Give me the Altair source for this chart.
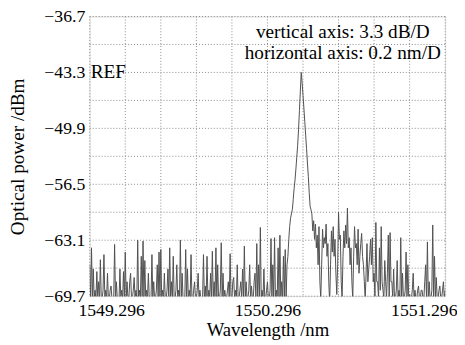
import altair as alt
import numpy as np
import pandas as pd

# Sampling grid of the spectrum (OSA trace, 0.005 nm step)
WL_START = 1549.296
WL_STEP = 0.005

# Optical power (dBm), one value per sample
power = [
    -66, -70, -64.0, -70, -66.5, -70, -69, -70, -66.8, -70, -68, -70, -65.4, -70, -70, -69, -64.8, -70, -69, -70,
    -67, -70, -70, -69, -68.5, -70, -70, -70, -63.6, -70, -68, -70, -70, -70, -66.5, -70, -69, -70, -66.8, -70,
    -64.5, -70, -68, -70, -70, -68, -67, -70, -70, -69, -67.5, -70, -69, -70, -63.1, -70, -69, -70, -65, -70,
    -63.2, -70, -65.5, -70, -69, -70, -67, -70, -70, -70, -64.8, -70, -68, -70, -70, -69, -66, -70, -64.5, -70,
    -64.2, -70, -69, -70, -67, -70, -70, -69, -66.5, -70, -64, -70, -68, -70, -65, -70, -70, -69, -66, -70,
    -69, -70, -63.1, -70, -67, -70, -70, -70, -64.2, -70, -66.5, -70, -69, -70, -64.8, -70, -70, -69, -68, -70,
    -70, -69, -67, -70, -69, -70, -70, -70, -64.8, -70, -68.5, -70, -65, -70, -69, -70, -67, -70, -64.4, -70,
    -68, -70, -64, -70, -66, -70, -70, -69, -63.4, -70, -67, -70, -69, -70, -70, -69, -68, -70, -64.7, -70,
    -70, -68, -67.5, -70, -69, -70, -66, -70, -70, -69, -68, -70, -66.5, -70, -63.8, -70, -68, -70, -70, -69,
    -66, -70, -68.5, -70, -70, -68, -67, -70, -63.5, -70, -66, -70, -61.6, -70, -69, -70, -66.5, -70, -70, -69,
    -68, -70, -70, -69, -62.9, -70, -66, -70, -62.8, -70, -69, -70, -64, -70, -62.5, -70, -68, -70, -65, -70,
    -64.2, -70, -66, -65, -63, -61.5, -60.5, -60, -59.5, -58.3, -57, -56, -54.7, -53.3, -51.9, -50, -47.8, -45.5, -43.3, -44.5,
    -46, -47.5, -49.1, -50.7, -52.3, -54, -55.6, -57.5, -59.1, -59.5, -60, -62, -60.8, -63, -61.2, -64, -62.5, -66, -61.5, -68,
    -70, -66, -61.8, -64, -62.8, -63.5, -61.2, -65, -63.5, -68, -70.5, -66, -62, -64.5, -61.5, -65, -63, -67, -69.5, -66,
    -59.8, -63, -62.5, -68, -70, -65, -62, -64, -61.3, -63.5, -59.3, -64, -62.8, -66, -64, -68, -70, -65, -61.5, -64,
    -63.5, -66, -61.8, -67, -65, -63.5, -62.3, -65, -66, -68, -70, -67, -63.5, -68, -66.5, -65, -63, -66, -62.8, -68,
    -67, -70, -61, -68, -68, -70, -64, -69, -61.5, -68, -69, -70, -65.5, -68, -70, -67, -62.5, -70, -62.2, -68,
    -68, -70, -66.5, -70, -70, -69, -65.5, -70, -69, -70, -62.8, -70, -67, -70, -70, -69, -64.5, -70, -66, -70,
    -69.5, -70, -70, -69, -67, -70, -69, -70, -70, -69, -68.5, -70, -70, -69, -69, -70, -70, -68, -66, -70,
    -63.3, -70, -68, -70, -70, -69, -61.3, -70, -65, -70, -67.5, -70, -70, -69, -68.5, -70, -70, -69, -68, -70,
    -69,
]

# Grid divisions (0.2 nm/D, 3.3 dB/D) and labelled ticks
x_grid = [1549.296, 1549.496, 1549.696, 1549.896, 1550.096, 1550.296,
          1550.496, 1550.696, 1550.896, 1551.096, 1551.296]
x_labels = [1549.296, 1550.296, 1551.296]
y_grid = [-69.7, -66.4, -63.1, -59.8, -56.5, -53.2, -49.9, -46.6, -43.3, -40.0, -36.7]
y_labels = [-69.7, -63.1, -56.5, -49.9, -43.3, -36.7]

note_text = ["vertical axis: 3.3 dB/D", "horizontal axis: 0.2 nm/D"]
note_wl = [1550.72, 1550.72]
note_p = [-38.56, -41.0]

ref_text = ["REF"]
ref_wl = [1549.296]
ref_p = [-43.3]

wl = np.round(WL_START + WL_STEP * np.arange(len(power)), 4)
df = pd.DataFrame({"wl": wl, "p": power})

FONT = "Liberation Serif"
GRID = "#8a8a8a"

xscale = alt.Scale(domain=[1549.296, 1551.296], nice=False, zero=False)
yscale = alt.Scale(domain=[-69.7, -36.7], nice=False, zero=False)

xaxis = alt.Axis(
    values=x_labels, format=".3f",
    labelFlush=True, labelFlushOffset=12, labelOverlap=False,
    grid=False, ticks=False, domain=False,
    labelFont=FONT, labelFontSize=18, labelColor="#000", labelPadding=6,
    title="Wavelength /nm", titleFont=FONT, titleFontSize=19,
    titleFontWeight="normal", titleColor="#000", titlePadding=1,
)
yaxis = alt.Axis(
    values=y_labels, format=".1f", labelOverlap=False,
    grid=False, ticks=False, domain=False,
    labelFont=FONT, labelFontSize=18, labelColor="#000", labelPadding=5,
    title="Optical power /dBm", titleFont=FONT, titleFontSize=19.5,
    titleFontWeight="normal", titleColor="#000", titlePadding=17,
)

xgrid = alt.Chart(pd.DataFrame({"wl": x_grid})).mark_rule(
    color=GRID, strokeDash=[1, 2], strokeWidth=1
).encode(x=alt.X("wl:Q", scale=xscale, axis=xaxis))

ygrid = alt.Chart(pd.DataFrame({"p": y_grid})).mark_rule(
    color=GRID, strokeDash=[1, 2], strokeWidth=1
).encode(y=alt.Y("p:Q", scale=yscale, axis=yaxis))

line = alt.Chart(df).mark_line(color="#505050", strokeWidth=1, clip=True).encode(
    x=alt.X("wl:Q", scale=xscale),
    y=alt.Y("p:Q", scale=yscale),
)

notes = alt.Chart(pd.DataFrame({"wl": note_wl, "p": note_p, "t": note_text})).mark_text(
    font=FONT, fontSize=19.5, align="center", baseline="middle", color="#000"
).encode(x=alt.X("wl:Q", scale=xscale), y=alt.Y("p:Q", scale=yscale), text="t:N")

ref = alt.Chart(pd.DataFrame({"wl": ref_wl, "p": ref_p, "t": ref_text})).mark_text(
    font=FONT, fontSize=19.5, align="left", baseline="middle", color="#000", dx=1
).encode(x=alt.X("wl:Q", scale=xscale), y=alt.Y("p:Q", scale=yscale), text="t:N")

chart = alt.layer(xgrid, ygrid, line, notes, ref).properties(
    width=361, height=284,
    autosize=alt.AutoSizeParams(type="none"),
    padding={"left": 83, "top": 6, "right": 12, "bottom": 48},
).configure_view(stroke="#555555", strokeWidth=2).configure(background="white")

chart.save("out.html", embed_options={"renderer": "svg", "actions": False})
